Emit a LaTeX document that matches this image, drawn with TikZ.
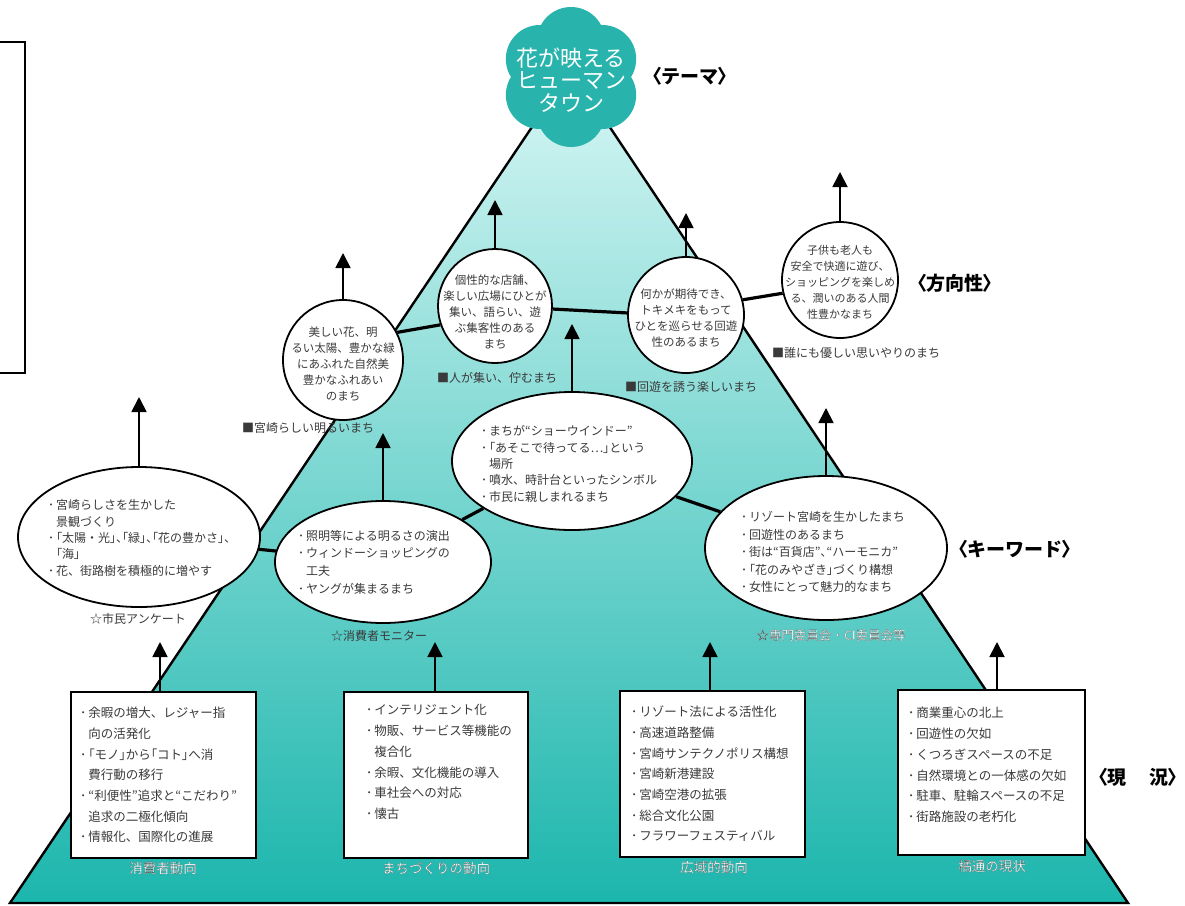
\documentclass[tikz,border=0pt]{standalone}
\usepackage{fontspec}
\setmainfont{Noto Sans CJK JP}
\newfontfamily\pf[RawFeature=+palt]{Noto Sans CJK JP}
\usetikzlibrary{arrows.meta,shapes.geometric}
\definecolor{flowerc}{HTML}{28B4AD}
\definecolor{tritop}{HTML}{D6F6F4}
\definecolor{trimid}{HTML}{66D5CE}
\definecolor{tribot}{HTML}{1CB6AD}
\definecolor{txtc}{HTML}{3A3A3A}
\newcommand\bu{･\kern2pt}
\newcommand\ind{\phantom{\bu}}
\newcommand\qo{{\pf “}}
\newcommand\qc{{\pf ”}}
\newcommand\ko{{\pf 「}}
\newcommand\kc{{\pf 」}}
\newcommand\tn{{\pf 、}}
\newcommand\hdl{{\pf 〈}}
\newcommand\hdr{{\pf 〉}}
\newcommand\outl[1]{{\color{white}\special{pdf:literal direct 0.3 0.3 0.3 RG 0.12 w 2 Tr}#1\special{pdf:literal direct 0 Tr}}}
\pgfdeclarelayer{back}
\pgfdeclarelayer{mid}
\pgfsetlayers{back,mid,main}
\begin{document}
\begin{tikzpicture}[x=1pt,y=-1pt,
  body/.style={text=txtc, inner sep=0pt, align=left, font=\fontsize{12}{16.3}\selectfont},
  ctext/.style={text=txtc, inner sep=0pt, align=center, font=\fontsize{11.5}{16}\selectfont},
  lab/.style={text=txtc, inner sep=0pt, font=\fontsize{12}{14}\selectfont},
  blab/.style={inner sep=0pt, font=\fontsize{13.5}{14}\selectfont},
  head/.style={text=black, inner sep=0pt, font=\bfseries\fontsize{19}{20}\selectfont},
  circ/.style={circle, draw, line width=1.8pt, fill=white, inner sep=0pt, minimum size=#1},
  ell/.style={ellipse, draw, line width=1.8pt, fill=white, inner sep=0pt},
  box/.style={rectangle, draw, line width=1.6pt, fill=white, inner sep=0pt, anchor=north west},
  arr/.style={line width=1.8pt, -{Triangle[width=15pt,length=15pt]}},
  conn/.style={line width=3.2pt},
  triedge/.style={line width=2.4pt, line join=miter}]
\useasboundingbox (0,0) rectangle (1185,905);
\begin{pgfonlayer}{back}
  \fill[white] (0,0) rectangle (1185,905);
  \draw[line width=1.3pt] (0,42) -- (25,42) -- (25,373) -- (0,373);
  \coordinate (apex) at (571,69);
  \coordinate (bl) at (10,903);
  \coordinate (br) at (1128,903);
  \shade[top color=tritop, middle color=trimid, bottom color=tribot] (apex) -- (bl) -- (br) -- cycle;
  \draw[triedge] (apex) -- (bl) -- (br) -- cycle;
\end{pgfonlayer}

% theme flower
\foreach \a in {90,30,-30,-90,-150,150}{\fill[flowerc] (571,77) ++(\a:36) circle[radius=34];}
\fill[flowerc] (571,77) circle[radius=42];
\node[text=white, inner sep=0pt, align=center, font=\fontsize{22}{22.5}\selectfont] (theme) at (571,80) {花が映える\\ヒューマン\\タウン};
\node[head] (hTheme) at (690,76) {\hdl テーマ\hdr};

% direction circles
\node[circ=120] (c1) at (343,360) {};
\node[ctext] (c1t) at (343,364) {美しい花、明\\るい太陽、豊かな緑\\にあふれた自然美\\豊かなふれあい\\のまち};
\node[lab, anchor=west] (l1) at (242,428) {■宮崎らしい明るいまち};

\node[circ=114] (c2) at (495,306) {};
\node[ctext] (c2t) at (495,312) {個性的な店舗、\\楽しい広場にひとが\\集い、語らい、遊\\ぶ集客性のある\\まち};
\node[lab, anchor=west] (l2) at (437,378) {■人が集い、佇むまち};

\node[circ=116] (c3) at (686,315) {};
\node[ctext] (c3t) at (686,318) {何かが期待でき、\\トキメキをもって\\ひとを巡らせる回遊\\性のあるまち};
\node[lab, anchor=west] (l3) at (625,387) {■回遊を誘う楽しいまち};

\node[circ=116] (c4) at (840,280) {};
\node[ctext, font=\fontsize{11}{16}\selectfont] (c4t) at (840,282) {子供も老人も\\安全で快適に遊び、\\ショッピングを楽しめ\\る、潤いのある人間\\性豊かなまち};
\node[lab, anchor=west] (l4) at (772,353) {■誰にも優しい思いやりのまち};
\node[head] (hDir) at (955,283) {\hdl 方向性\hdr};

\coordinate (tc1) at (343,253);
\coordinate (tc2) at (495,200);
\coordinate (tc3) at (686,213);
\coordinate (tc4) at (840,172);
\draw[arr] (c1) -- (tc1);
\draw[arr] (c2) -- (tc2);
\draw[arr] (c3) -- (tc3);
\draw[arr] (c4) -- (tc4);

% keyword ellipses
\node[ell, minimum width=242, minimum height=140] (e1) at (139,537) {};
\node[body, anchor=west] (e1t) at (48,538) {\bu 宮崎らしさを生かした\\\ind 景観づくり\\\bu\ko 太陽・光\kc\tn\ko 緑\kc\tn\ko 花の豊かさ\kc\tn\\\ind\ko 海\kc\\\bu 花、街路樹を積極的に増やす};
\node[lab] (s1) at (138,619) {☆市民アンケート};

\node[ell, minimum width=216, minimum height=122] (e2) at (383,562) {};
\node[body, font=\fontsize{12}{17.7}\selectfont, anchor=west] (e2t) at (298,562) {\bu 照明等による明るさの演出\\\bu ウィンドーショッピングの\\\ind 工夫\\\bu ヤングが集まるまち};
\node[lab] (s2) at (379,636) {☆消費者モニター};

\node[ell, minimum width=240, minimum height=138] (e3) at (572,461) {};
\node[body, anchor=west] (e3t) at (481,464) {\bu まちが\qo ショーウインドー\qc\\\bu\ko あそこで待ってる…\kc という\\\ind 場所\\\bu 噴水、時計台といったシンボル\\\bu 市民に親しまれるまち};

\node[ell, minimum width=242, minimum height=144] (e4) at (826,548) {};
\node[body, font=\fontsize{12}{17.5}\selectfont, anchor=west] (e4t) at (741,552) {\bu リゾート宮崎を生かしたまち\\\bu 回遊性のあるまち\\\bu 街は\qo 百貨店\qc\tn\qo ハーモニカ\qc\\\bu\ko 花のみやざき\kc づくり構想\\\bu 女性にとって魅力的なまち};
\node[blab, font=\fontsize{12.5}{14}\selectfont] (s4) at (831,635) {\outl{☆専門委員会・CI委員会等}};
\node[head] (hKey) at (1015,549) {\hdl キーワード\hdr};

\coordinate (te1) at (139,397);
\coordinate (te2) at (383,433);
\coordinate (te3) at (572,324);
\coordinate (te4) at (826,408);
\draw[arr] (e1) -- (te1);
\draw[arr] (e2) -- (te2);
\draw[arr] (e3) -- (te3);
\draw[arr] (e4) -- (te4);

% present-state boxes
\node[box, minimum width=185, minimum height=166] (b1) at (70,691) {};
\node[body, font=\fontsize{12.5}{20.7}\selectfont, anchor=west] (b1t) at (80,775) {\bu 余暇の増大、レジャー指\\\ind 向の活発化\\\bu\ko モノ\kc から\ko コト\kc へ消\\\ind 費行動の移行\\\bu\qo 利便性\qc 追求と\qo こだわり\qc\\\ind 追求の二極化傾向\\\bu 情報化、国際化の進展};
\node[blab] (bl1) at (163,868) {\outl{消費者動向}};

\node[box, minimum width=184, minimum height=166] (b2) at (343,691) {};
\node[body, font=\fontsize{12.5}{20.8}\selectfont, anchor=west] (b2t) at (366,762) {\bu インテリジェント化\\\bu 物販、サービス等機能の\\\ind 複合化\\\bu 余暇、文化機能の導入\\\bu 車社会への対応\\\bu 懐古};
\node[blab] (bl2) at (436,868) {\outl{まちづくりの動向}};

\node[box, minimum width=185, minimum height=166] (b3) at (619,690) {};
\node[body, font=\fontsize{12.5}{20.7}\selectfont, anchor=west] (b3t) at (631,774) {\bu リゾート法による活性化\\\bu 高速道路整備\\\bu 宮崎サンテクノポリス構想\\\bu 宮崎新港建設\\\bu 宮崎空港の拡張\\\bu 総合文化公園\\\bu フラワーフェスティバル};
\node[blab] (bl3) at (714,867) {\outl{広域的動向}};

\node[box, minimum width=187, minimum height=165] (b4) at (897,689) {};
\node[body, font=\fontsize{12.5}{20.8}\selectfont, anchor=west] (b4t) at (908,765) {\bu 商業重心の北上\\\bu 回遊性の欠如\\\bu くつろぎスペースの不足\\\bu 自然環境との一体感の欠如\\\bu 駐車、駐輪スペースの不足\\\bu 街路施設の老朽化};
\node[blab] (bl4) at (992,866) {\outl{橘通の現状}};
\node[head] (hNow) at (1138,777) {\hdl 現\hspace{1.2em}況\hdr};

\coordinate (tb1) at (160,642);
\coordinate (tb2) at (435,642);
\coordinate (tb3) at (710,642);
\coordinate (tb4) at (997,642);
\draw[arr] (b1.north -| tb1) -- (tb1);
\draw[arr] (b2.north -| tb2) -- (tb2);
\draw[arr] (b3.north -| tb3) -- (tb3);
\draw[arr] (b4.north -| tb4) -- (tb4);

\begin{pgfonlayer}{mid}
  \draw[conn] (c1.27) -- (c2.199);
  \draw[conn] (c2.-3) -- (c3.178);
  \draw[conn] (c3.15) -- (c4.193);
  \draw[conn] (e1) -- (e2);
  \draw[conn] (e2) -- (e3);
  \draw[conn] (e3) -- (e4);
\end{pgfonlayer}
\end{tikzpicture}
\end{document}
